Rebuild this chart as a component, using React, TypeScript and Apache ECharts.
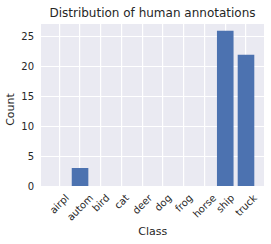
import React, { useEffect, useRef } from "react";
import * as echarts from "echarts";

const categories = ["airpl", "autom", "bird", "cat", "deer", "dog", "frog", "horse", "ship", "truck"];
const counts = [0, 3, 0, 0, 0, 0, 0, 0, 26, 22];
const yTicks = [0, 5, 10, 15, 20, 25];
const titleText = "Distribution of human annotations";
const xLabel = "Class";
const yLabel = "Count";

const FONT = "DejaVu Sans";
const TEXT = "#262626";
const BG = "#EAEAF2";
const BAR = "#4C72B0";

function measure(text: string, size: number): number {
  const c = document.createElement("canvas").getContext("2d");
  if (!c) return text.length * size * 0.6;
  c.font = `${size}px "${FONT}"`;
  return c.measureText(text).width;
}

export default function App() {
  const ref = useRef<HTMLDivElement>(null);
  useEffect(() => {
    if (!ref.current) return;
    const chart = echarts.init(ref.current, null, { renderer: "svg" });
    const left = 41;
    const top = 23;
    const width = 223;
    const height = 163;
    const yMax = 27.3;
    const lh = 11.6;
    const pad = 6;
    chart.setOption({
      animation: false,
      backgroundColor: "#ffffff",
      grid: [
        { left, top, width, height, show: false, outerBoundsMode: "none" },
        { left: 59.3, top, width: 186.7, height, show: false, outerBoundsMode: "none" },
      ],
      xAxis: [
        { gridIndex: 0, type: "value", min: 0, max: 1, show: false },
        {
          gridIndex: 1,
          type: "category",
          data: categories,
          boundaryGap: false,
          axisLine: { show: false },
          axisTick: { show: false },
          splitLine: { show: false },
          axisLabel: { show: false },
        },
      ],
      yAxis: [
        {
          gridIndex: 0,
          type: "value",
          min: yTicks[0],
          max: yMax,
          interval: 5,
          z: 1,
          axisLine: { show: false },
          axisTick: { show: false },
          splitLine: { show: true, lineStyle: { color: "#ffffff", width: 1 } },
          axisLabel: {
            showMaxLabel: false,
            margin: 7,
            fontFamily: FONT,
            fontSize: 10,
            color: TEXT,
            formatter: (v: number) => (yTicks.includes(v) ? String(v) : ""),
          },
        },
        { gridIndex: 1, type: "value", min: 0, max: yMax, show: false },
      ],
      series: [
        {
          type: "bar",
          xAxisIndex: 1,
          yAxisIndex: 1,
          data: counts,
          barWidth: "80%",
          clip: false,
          z: 200,
          itemStyle: { color: BAR },
        },
      ],
    });
    const axisY = chart.convertToPixel({ yAxisIndex: 1 }, 0) as number;
    const axisTop = chart.convertToPixel({ yAxisIndex: 1 }, yMax) as number;
    const xs = categories.map((c) => chart.convertToPixel({ xAxisIndex: 1 }, c) as number);
    const vlines = xs.map((x) => ({
      type: "rect",
      silent: true,
      z: 100,
      shape: { x: Math.round(x - 0.6), y: axisTop, width: 1.2, height: axisY - axisTop },
      style: { fill: "#ffffff", stroke: null },
    }));
    const labels = categories.map((c, i) => {
      const L = measure(c, 10);
      const y = axisY + pad + 0.3536 * (L + lh);
      return {
        type: "text",
        x: xs[i],
        y,
        rotation: Math.PI / 4,
        silent: true,
        style: { text: c, fontFamily: FONT, fontSize: 10, fill: TEXT, align: "center", verticalAlign: "middle" },
      };
    });
    chart.setOption({
      graphic: [
        {
          type: "rect",
          silent: true,
          z: -10,
          shape: { x: left, y: top, width, height },
          style: { fill: BG },
        },
        ...vlines,
        {
          type: "text",
          x: 152.5,
          y: 12.5,
          silent: true,
          style: { text: titleText, fontFamily: FONT, fontSize: 12, fill: TEXT, align: "center", verticalAlign: "middle" },
        },
        {
          type: "text",
          x: 152.7,
          y: 231,
          silent: true,
          style: { text: xLabel, fontFamily: FONT, fontSize: 11, fill: TEXT, align: "center", verticalAlign: "middle" },
        },
        {
          type: "text",
          x: 10.5,
          y: 109.5,
          rotation: Math.PI / 2,
          silent: true,
          style: { text: yLabel, fontFamily: FONT, fontSize: 11, fill: TEXT, align: "center", verticalAlign: "middle" },
        },
        ...labels,
      ],
    });
    return () => chart.dispose();
  }, []);
  return <div ref={ref} style={{ position: "absolute", left: 0, top: 0, width: 271, height: 244 }} />;
}
